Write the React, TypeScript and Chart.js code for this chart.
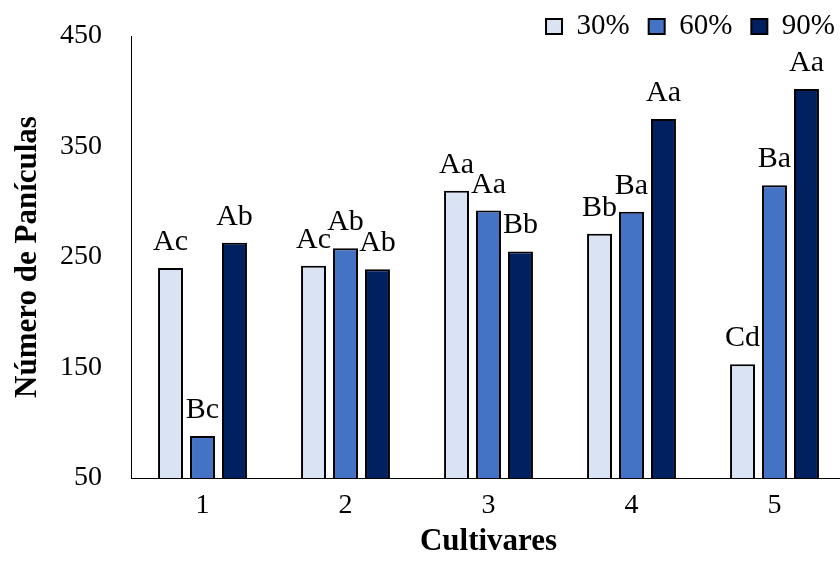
import { useEffect, useRef } from 'react';
import { Chart, registerables } from 'chart.js';

Chart.register(...registerables);

const categories = ['1', '2', '3', '4', '5'];
const seriesNames = ['30%', '60%', '90%'];
const values30 = [240, 242, 310, 271, 153];
const values60 = [88, 258, 292, 291, 315];
const values90 = [263, 239, 255, 375, 402];
const letters30 = ['Ac', 'Ac', 'Aa', 'Bb', 'Cd'];
const letters60 = ['Bc', 'Ab', 'Aa', 'Ba', 'Ba'];
const letters90 = ['Ab', 'Ab', 'Bb', 'Aa', 'Aa'];
const colors = ['#DAE3F3', '#4472C4', '#002060'];
const yMin = 50;
const yMax = 450;
const yStep = 100;
const xTitle = 'Cultivares';
const yTitle = 'Número de Panículas';

const SERIF = '"Liberation Serif", "Times New Roman", Times, serif';

export default function App() {
  const ref = useRef<HTMLCanvasElement>(null);

  useEffect(() => {
    document.documentElement.style.overflow = 'hidden';
    document.body.style.overflow = 'hidden';
    const canvas = ref.current;
    if (!canvas) return;
    const letterSets = [letters30, letters60, letters90];

    const barLabels = {
      id: 'barLabels',
      afterDatasetsDraw(chart: any) {
        const ctx = chart.ctx;
        ctx.save();
        ctx.font = `30px ${SERIF}`;
        ctx.fillStyle = '#000';
        ctx.textAlign = 'center';
        ctx.textBaseline = 'alphabetic';
        chart.data.datasets.forEach((_ds: any, i: number) => {
          const meta = chart.getDatasetMeta(i);
          meta.data.forEach((el: any, j: number) => {
            ctx.fillText(letterSets[i][j], el.x, el.y - 18);
          });
        });
        ctx.restore();
      },
    };

    const legendFit = {
      id: 'legendFit',
      beforeLayout(chart: any) {
        const lg = chart.legend;
        if (lg && !lg.__patched) {
          const orig = lg.fit.bind(lg);
          lg.fit = function () {
            orig();
            this.height = 43;
          };
          lg.__patched = true;
        }
      },
    };

    const valueSets = [values30, values60, values90];
    const chart = new Chart(canvas, {
      type: 'bar',
      data: {
        labels: categories,
        datasets: seriesNames.map((name, i) => ({
          label: name,
          data: valueSets[i],
          backgroundColor: colors[i],
          borderColor: '#000',
          borderWidth: 2,
          borderSkipped: false,
          categoryPercentage: 0.671,
          barPercentage: 0.78,
        })),
      },
      options: {
        responsive: false,
        animation: false,
        devicePixelRatio: 1,
        layout: { padding: { top: -7, left: 0, right: -8, bottom: 0 } },
        plugins: {
          tooltip: { enabled: false },
          legend: {
            position: 'top',
            align: 'end',
            labels: {
              font: { family: SERIF, size: 29 },
              color: '#000',
              boxWidth: 16,
              boxHeight: 15,
              padding: 19,
            },
          },
        },
        scales: {
          x: {
            grid: { display: false, drawTicks: false },
            border: { display: true, color: '#000', width: 1 },
            ticks: { font: { family: SERIF, size: 28 }, color: '#000', padding: 11 },
            title: {
              display: true,
              text: xTitle,
              color: '#000',
              font: { family: SERIF, size: 31, weight: 'bold' },
              padding: { top: 0, bottom: 3 },
            },
            afterFit(scale: any) {
              scale.height = 86;
              scale.paddingLeft = 0;
              scale.paddingRight = 0;
            },
          },
          y: {
            min: yMin,
            max: yMax,
            grid: { display: false, drawTicks: false },
            border: { display: true, color: '#000', width: 1 },
            ticks: { stepSize: yStep, font: { family: SERIF, size: 28 }, color: '#000', padding: 29 },
            title: {
              display: true,
              text: yTitle,
              color: '#000',
              font: { family: SERIF, size: 31, weight: 'bold' },
              padding: { top: 9, bottom: 0 },
            },
            afterFit(scale: any) {
              scale.width = 131;
              scale.paddingTop = 0;
              scale.paddingBottom = 0;
            },
          },
        },
      },
      plugins: [barLabels, legendFit],
    } as any);

    return () => chart.destroy();
  }, []);

  return (
    <canvas
      ref={ref}
      width={846}
      height={564}
      style={{ position: 'fixed', left: 0, top: 0, display: 'block' }}
    />
  );
}
